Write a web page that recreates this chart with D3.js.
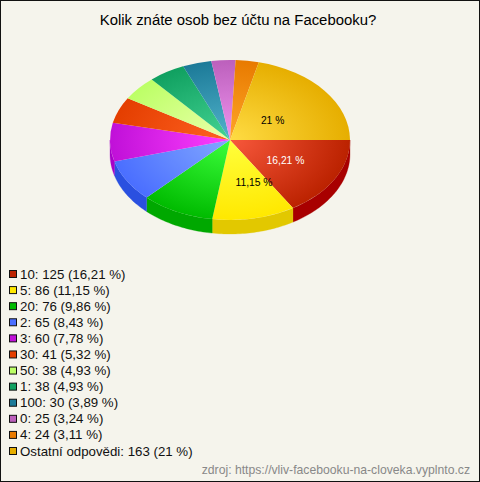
<!DOCTYPE html>
<html><head><meta charset="utf-8">
<script src="https://cdn.jsdelivr.net/npm/d3@7"></script>
<style>html,body{margin:0;padding:0;background:#f5f4ec}svg{display:block}text{font-family:"Liberation Sans",Arial,sans-serif}</style>
</head><body><svg id="c" width="480" height="482"></svg>
<script>
const title = "Kolik znáte osob bez účtu na Facebooku?";
const source = "zdroj: https://vliv-facebooku-na-cloveka.vyplnto.cz";
const categories = ["10","5","20","2","3","30","50","1","100","0","4","Ostatní odpovědi"];
const counts = [125,86,76,65,60,41,38,38,30,25,24,163];
const percents = ["16,21","11,15","9,86","8,43","7,78","5,32","4,93","4,93","3,89","3,24","3,11","21"];
const pieLabels = ["16,21 %","11,15 %",null,null,null,null,null,null,null,null,null,"21 %"];
const labelColors = ["#fff","#000",null,null,null,null,null,null,null,null,null,"#000"];
const edgeColors = ["#bb2200","#ffe800","#00bb00","#4a6eff","#c010d8","#e43e00","#bcff66","#10a060","#1c7a98","#bc60bc","#e87a00","#e6ae00"];
const centerColors = ["#f8583c","#ffff3c","#3cff3c","#82a8ff","#ff40ff","#ff6222","#ecffac","#44d494","#52b4cc","#f094f0","#ffa628","#ffdc44"];
const sideColors = ["#a80000","#e2c800","#00a800","#2a50e0","#a800c8","#c03000","#98d850","#008040","#105a78","#984098","#c05800","#c09000"];

const W=480,H=482,cx=230,cy=140,rx=120,ry=80,depth=14;
const svg=d3.select("#c");
svg.append("rect").attr("x",0.5).attr("y",0.5).attr("width",W-1).attr("height",H-1).attr("fill","#f5f4ec").attr("stroke","#111");
svg.append("text").attr("x",238).attr("y",25).attr("text-anchor","middle").attr("font-size",14.9).attr("fill","#000").text(title);

const defs=svg.append("defs");
const pie=d3.pie().sort(null).startAngle(Math.PI/2).endAngle(Math.PI*2.5);
const arcs=pie(counts);
const scaleY=ry/rx;
const px=a=>cx+rx*Math.sin(a), py=a=>cy-ry*Math.cos(a);

const sides=svg.append("g");
arcs.forEach((d,i)=>{
  const lo=Math.max(d.startAngle,Math.PI/2), hi=Math.min(d.endAngle,Math.PI*1.5);
  if(hi<=lo) return;
  const p=d3.path();
  p.moveTo(px(lo),py(lo));
  const n=Math.ceil((hi-lo)/0.02);
  const steps=d3.range(n+1).map(k=>lo+(hi-lo)*k/n);
  steps.forEach(a=>p.lineTo(px(a),py(a)));
  steps.slice().reverse().forEach(a=>p.lineTo(px(a),py(a)+depth));
  p.closePath();
  sides.append("path").attr("d",p.toString()).attr("fill",sideColors[i]).attr("stroke",sideColors[i]).attr("stroke-width",0.3);
});

const arc=d3.arc().innerRadius(0).outerRadius(rx);
const face=svg.append("g").attr("transform",`translate(${cx},${cy}) scale(1,${scaleY})`);
arcs.forEach((d,i)=>{
  const g=defs.append("radialGradient").attr("id","g"+i).attr("gradientUnits","userSpaceOnUse")
    .attr("cx",0).attr("cy",0).attr("r",rx);
  g.append("stop").attr("offset",0).attr("stop-color",centerColors[i]);
  g.append("stop").attr("offset",1).attr("stop-color",edgeColors[i]);
  face.append("path").attr("d",arc(d)).attr("fill",`url(#g${i})`);
});

const labelArc=d3.arc().innerRadius(rx*0.52).outerRadius(rx*0.52);
const labelNudge={0:[1,0],1:[11.5,1.3],11:[-6.5,5.7]};
arcs.forEach((d,i)=>{
  if(!pieLabels[i]) return;
  const c=labelArc.centroid(d), n=labelNudge[i];
  svg.append("text").attr("x",cx+c[0]+n[0]).attr("y",cy+c[1]*scaleY+n[1]+3.5).attr("text-anchor","middle")
    .attr("font-size",10.3).attr("fill",labelColors[i]).text(pieLabels[i]);
});

const legendY=d3.scalePoint().domain(d3.range(categories.length)).range([274,451]);
const leg=svg.append("g");
categories.forEach((c,i)=>{
  const y=legendY(i);
  leg.append("rect").attr("x",9.5).attr("y",y-3.5).attr("width",7).attr("height",7).attr("fill",edgeColors[i]).attr("stroke","#111");
  leg.append("text").attr("x",20).attr("y",y+4.5).attr("font-size",13.27).attr("fill","#111")
    .text(`${c}: ${counts[i]} (${percents[i]} %)`);
});
svg.append("text").attr("x",470).attr("y",474).attr("text-anchor","end").attr("font-size",12.2).attr("fill","#888").text(source);
</script></body></html>
